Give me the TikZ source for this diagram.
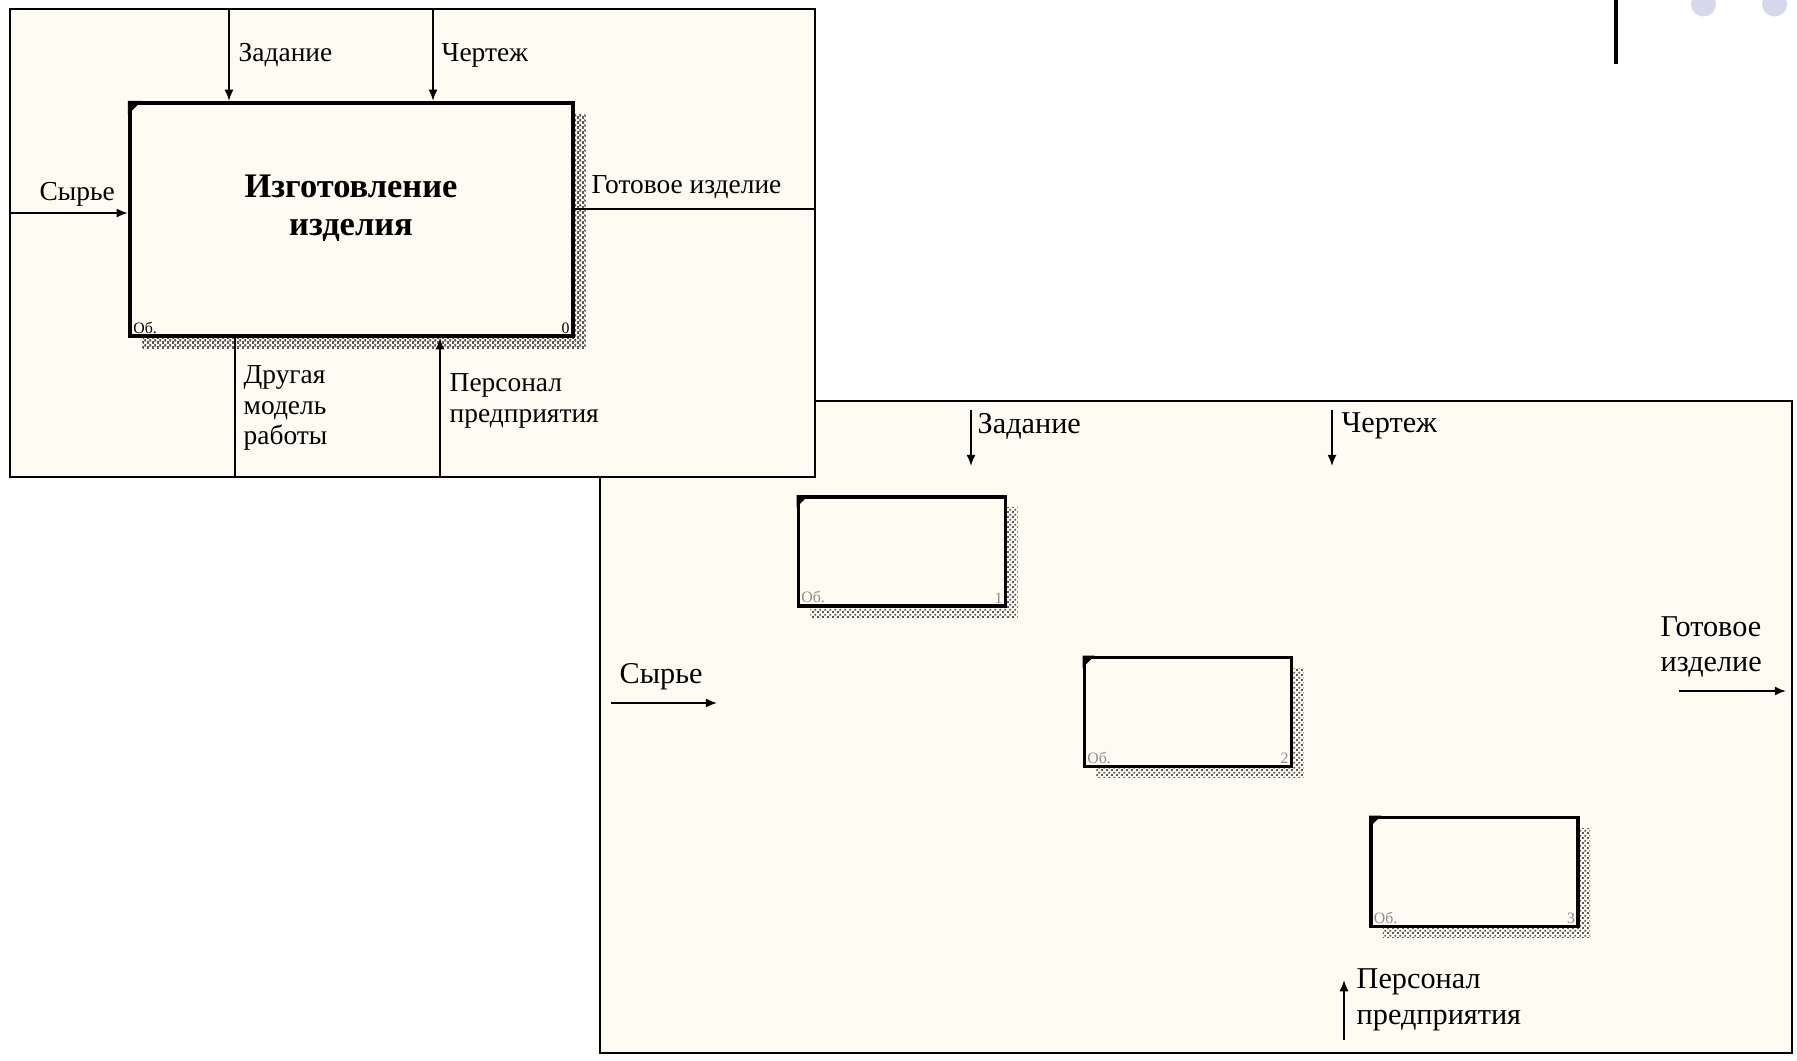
\documentclass[tikz,border=0pt]{standalone}
\usepackage{fontspec}
\setmainfont{Liberation Serif}
\usetikzlibrary{arrows.meta,patterns,shadows}
\definecolor{paper}{RGB}{253,251,242}
\definecolor{dotc}{RGB}{216,216,236}
\pgfdeclarepatternformonly{idefdots}{\pgfpointorigin}{\pgfqpoint{1.5pt}{1.5pt}}{\pgfqpoint{1.5pt}{1.5pt}}{%
  \pgfpathrectangle{\pgfpointorigin}{\pgfqpoint{0.6pt}{0.6pt}}%
  \pgfpathrectangle{\pgfqpoint{0.75pt}{0.75pt}}{\pgfqpoint{0.6pt}{0.6pt}}%
  \pgfusepath{fill}}
\begin{document}
\begin{tikzpicture}[x=0.01cm,y=-0.01cm,
  font=\fontsize{7.8}{8.6}\selectfont,
  panel/.style={draw,fill=paper,line width=0.6pt,inner sep=0pt},
  func/.style={draw,fill=paper,line width=1pt,inner sep=0pt,
    minimum width=2.07cm,minimum height=1.09cm,
    general shadow={shadow xshift=0.12cm,shadow yshift=-0.11cm,
      pattern=idefdots,pattern color=black!65}},
  arr/.style={-{Latex[length=3.2pt,width=2.6pt]},line width=0.5pt},
  flow/.style={line width=0.5pt},
  lbl/.style={inner sep=0pt,anchor=west,align=left},
  big/.style={font=\fontsize{8.6}{10.2}\selectfont},
  tag/.style={inner sep=0pt,font=\fontsize{4.5}{5}\selectfont},
  corner/.style={fill=black}]
\useasboundingbox (0,0) rectangle (1797,1060);
\clip (0,0) rectangle (1797,1060);
\fill[white] (0,0) rectangle (1797,1060);
\draw[line width=1.1pt] (1616,0) -- (1616,64);
\fill[dotc] (1703.5,4) circle[radius=12.5];
\fill[dotc] (1774.5,4) circle[radius=12.5];

\node[panel,minimum width=11.92cm,minimum height=6.52cm] (dec) at (1196,727) {};
\node[func] (A1) at (902,551.5) {};
\node[func] (A2) at (1188,712) {};
\node[func] (A3) at (1474.5,872) {};
\foreach \n in {1,2,3}{
  \fill[corner] (A\n.north west) -- ++(12,0) -- ++(-12,12) -- cycle;
  \node[tag,text=black!45,anchor=south west] at ([shift={(4,-4)}]A\n.south west) {Об.};
  \node[tag,text=black!45,anchor=south east] at ([shift={(-4,-4)}]A\n.south east) {\n};
}
\coordinate (dZad0) at (971,410);  \coordinate (dZad1) at (971,466);
\coordinate (dCher0) at (1332,410); \coordinate (dCher1) at (1332,466);
\coordinate (dSyr0) at (611,703);  \coordinate (dSyr1) at (717,703);
\coordinate (dGot0) at (1679,691); \coordinate (dGot1) at (1786,691);
\coordinate (dPer0) at (1344,1040); \coordinate (dPer1) at (1344,980);
\draw[arr] (dZad0) -- (dZad1);
\draw[arr] (dCher0) -- (dCher1);
\draw[arr] (dSyr0) -- (dSyr1);
\draw[arr] (dGot0) -- (dGot1);
\draw[arr] (dPer0) -- (dPer1);
\node[lbl,big] (dZadL) at (977,426) {Задание};
\node[lbl,big] (dCherL) at (1341,426) {Чертеж};
\node[lbl,big] (dSyrL) at (619,677) {Сырье};
\node[lbl,big] (dGotL) at (1660,647) {Готовое\\изделие};
\node[lbl,big] (dPerL) at (1356,1000) {Персонал\\предприятия};

\node[panel,minimum width=8.05cm,minimum height=4.68cm] (ctx) at (412.5,243) {};
\node[func,minimum width=4.43cm,minimum height=2.33cm,line width=1.2pt,
  general shadow={shadow xshift=0.13cm,shadow yshift=-0.13cm,
    pattern=idefdots,pattern color=black!65}] (A0) at (351.5,219.5) {};
\fill[corner] (A0.north west) -- ++(14,0) -- ++(-14,14) -- cycle;
\node[font=\fontsize{9.8}{10.8}\selectfont\bfseries,align=center] (A0T) at (351,208) {Изготовление\\изделия};
\node[tag,anchor=south west] (A0a) at ([shift={(5,-4)}]A0.south west) {Об.};
\node[tag,anchor=south east] (A0b) at ([shift={(-5,-4)}]A0.south east) {0};
\coordinate (cZad) at (229,9);
\coordinate (cCher) at (433,9);
\coordinate (cSyr) at (10,213);
\coordinate (cGot) at (815,209);
\coordinate (cDr) at (235,477);
\coordinate (cPer) at (440,477);
\draw[arr] (cZad) -- (cZad |- A0.north);
\draw[arr] (cCher) -- (cCher |- A0.north);
\draw[arr] (cSyr) -- (cSyr -| A0.west);
\draw[flow] (cGot -| A0.east) -- (cGot);
\draw[flow] (cDr |- A0.south) -- (cDr);
\draw[arr] (cPer) -- (cPer |- A0.south);
\node[lbl] (cZadL) at (238,55) {Задание};
\node[lbl] (cCherL) at (441,55) {Чертеж};
\node[lbl] (cSyrL) at (39,194) {Сырье};
\node[lbl] (cGotL) at (591,187) {Готовое изделие};
\node[lbl] (cDrL) at (243,408) {Другая\\модель\\работы};
\node[lbl] (cPerL) at (449,401) {Персонал\\предприятия};
\end{tikzpicture}
\end{document}
